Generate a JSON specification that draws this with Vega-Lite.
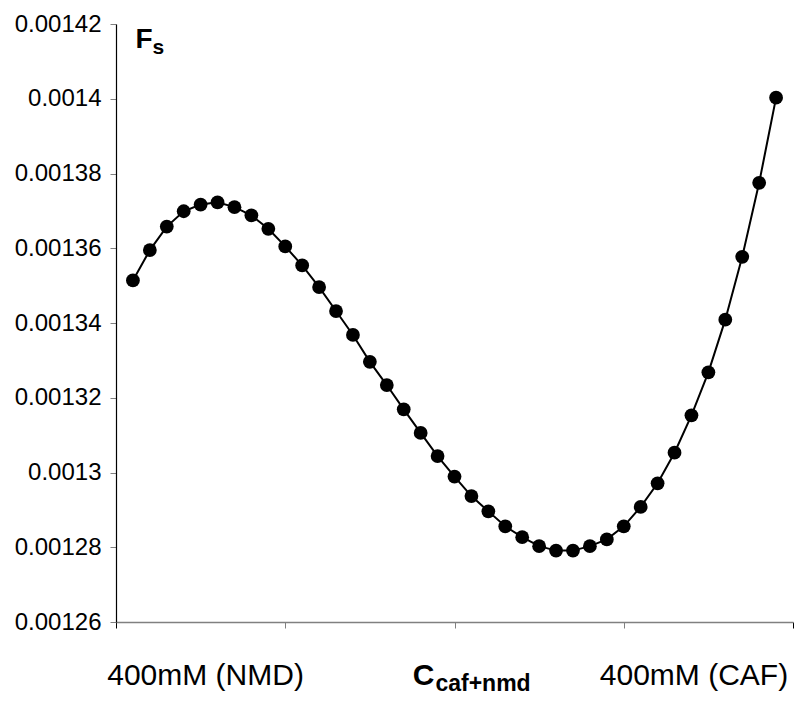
{
  "$schema": "https://vega.github.io/schema/vega-lite/v6.json",
  "width": 677,
  "height": 598,
  "autosize": "none",
  "padding": {"left": 116, "top": 24, "right": 5, "bottom": 80},
  "background": "white",
  "config": {
    "view": {"stroke": null},
    "axis": {"grid": false, "labelFont": "Liberation Sans", "titleFont": "Liberation Sans", "labelColor": "black", "titleColor": "black", "labelLimit": 0}
  },
  "data": {
    "values": [
      {"c": 0.025, "fs": 0.0013514},
      {"c": 0.05, "fs": 0.0013595},
      {"c": 0.075, "fs": 0.0013658},
      {"c": 0.1, "fs": 0.0013699},
      {"c": 0.125, "fs": 0.0013717},
      {"c": 0.15, "fs": 0.0013723},
      {"c": 0.175, "fs": 0.001371},
      {"c": 0.2, "fs": 0.0013688},
      {"c": 0.225, "fs": 0.0013652},
      {"c": 0.25, "fs": 0.0013605},
      {"c": 0.275, "fs": 0.0013554},
      {"c": 0.3, "fs": 0.0013496},
      {"c": 0.325, "fs": 0.0013432},
      {"c": 0.35, "fs": 0.0013368},
      {"c": 0.375, "fs": 0.0013296},
      {"c": 0.4, "fs": 0.0013234},
      {"c": 0.425, "fs": 0.0013169},
      {"c": 0.45, "fs": 0.0013106},
      {"c": 0.475, "fs": 0.0013044},
      {"c": 0.5, "fs": 0.0012989},
      {"c": 0.525, "fs": 0.0012937},
      {"c": 0.55, "fs": 0.0012896},
      {"c": 0.575, "fs": 0.0012856},
      {"c": 0.6, "fs": 0.0012827},
      {"c": 0.625, "fs": 0.0012803},
      {"c": 0.65, "fs": 0.0012791},
      {"c": 0.675, "fs": 0.0012791},
      {"c": 0.7, "fs": 0.0012803},
      {"c": 0.725, "fs": 0.0012821},
      {"c": 0.75, "fs": 0.0012856},
      {"c": 0.775, "fs": 0.0012908},
      {"c": 0.8, "fs": 0.0012971},
      {"c": 0.825, "fs": 0.0013053},
      {"c": 0.85, "fs": 0.0013153},
      {"c": 0.875, "fs": 0.0013268},
      {"c": 0.9, "fs": 0.0013409},
      {"c": 0.925, "fs": 0.0013577},
      {"c": 0.95, "fs": 0.0013775},
      {"c": 0.975, "fs": 0.0014003}
    ]
  },
  "layer": [
    {
      "mark": {"type": "line", "color": "black", "strokeWidth": 2},
      "encoding": {
        "x": {
          "field": "c", "type": "quantitative",
          "scale": {"domain": [0, 1], "nice": false, "zero": false},
          "axis": {
            "orient": "bottom", "values": [0, 0.25, 0.5, 0.75, 1], "labels": false, "title": null,
            "domainColor": "#808080", "domainWidth": 1.5, "tickSize": 6,
            "tickColor": {"condition": {"test": "datum.value < 0.01 || datum.value > 0.99", "value": "black"}, "value": "#808080"}
          }
        },
        "y": {
          "field": "fs", "type": "quantitative",
          "scale": {"domain": [0.00126, 0.00142], "nice": false, "zero": false},
          "axis": {
            "orient": "left",
            "values": [0.00126, 0.00128, 0.0013, 0.00132, 0.00134, 0.00136, 0.00138, 0.0014, 0.00142],
            "format": "~g", "labelFontSize": 24, "labelPadding": 9, "tickSize": 6, "tickColor": "#808080",
            "domainColor": "black", "domainWidth": 1.2,
            "title": "F", "titleAngle": 0, "titleAlign": "left", "titleBaseline": "alphabetic",
            "titleX": 19, "titleY": 23, "titleFontSize": 28, "titleFontWeight": "bold"
          }
        }
      }
    },
    {
      "mark": {"type": "point", "filled": true, "shape": "circle", "size": 190, "color": "black", "opacity": 1},
      "encoding": {
        "x": {
          "field": "c", "type": "quantitative",
          "axis": {
            "orient": "bottom", "values": [0.1315, 0.4535, 0.5414, 0.853],
            "labelExpr": "datum.value < 0.2 ? '400mM (NMD)' : datum.value < 0.5 ? 'C' : datum.value < 0.7 ? 'caf+nmd' : '400mM (CAF)'",
            "ticks": false, "domain": false, "title": null,
            "labelOverlap": false, "labelFlush": false, "labelBound": false, "labelLimit": 0,
            "labelAlign": "center", "labelBaseline": "alphabetic",
            "labelFontSize": {"condition": {"test": "datum.value > 0.5 && datum.value < 0.7", "value": 23}, "value": 30},
            "labelFontWeight": {"condition": {"test": "datum.value > 0.4 && datum.value < 0.7", "value": "bold"}, "value": "normal"},
            "labelPadding": {"condition": {"test": "datum.value > 0.5 && datum.value < 0.7", "value": 68}, "value": 62}
          }
        },
        "y": {
          "field": "fs", "type": "quantitative",
          "axis": {
            "orient": "left", "labels": false, "ticks": false, "domain": false,
            "title": "s", "titleAngle": 0, "titleAlign": "left", "titleBaseline": "alphabetic",
            "titleX": 36, "titleY": 29, "titleFontSize": 21, "titleFontWeight": "bold"
          }
        }
      }
    }
  ],
  "resolve": {"axis": {"x": "independent", "y": "independent"}}
}
